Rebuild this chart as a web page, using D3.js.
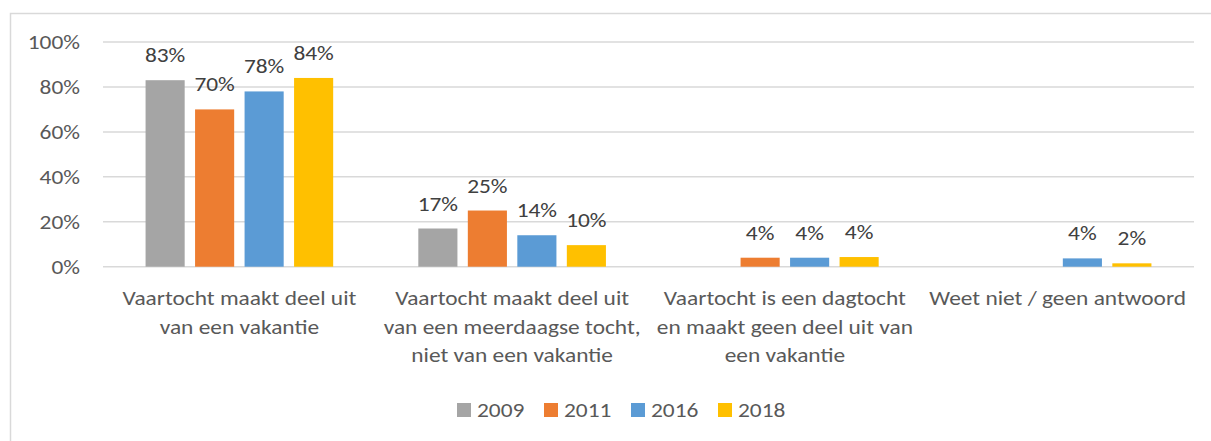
<!DOCTYPE html>
<html>
<head>
<meta charset="utf-8">
<script src="https://cdn.jsdelivr.net/npm/d3@7"></script>
<style>
  body { margin: 0; background: #fff; }
  svg { display: block; font-family: Carlito, Calibri, Lato, sans-serif; }
</style>
</head>
<body>
<div id="chart"></div>
<script>
// categories (pre-wrapped the way the original wraps them)
var categories = ["vakantie", "meerdaags", "dagtocht", "weetniet"];
var categoryLines = [
  ["Vaartocht maakt deel uit", "van een vakantie"],
  ["Vaartocht maakt deel uit", "van een meerdaagse tocht,", "niet van een vakantie"],
  ["Vaartocht is een dagtocht", "en maakt geen deel uit van", "een vakantie"],
  ["Weet niet / geen antwoord"]
];
var years = ["2009", "2011", "2016", "2018"];
var colors = ["#a5a5a5", "#ed7d31", "#5b9bd5", "#ffc000"];

// percentages per year, in category order (null = no bar)
var v2009 = [83, 17, null, null];
var v2011 = [70, 25, 4, null];
var v2016 = [78, 14, 4, 3.7];
var v2018 = [84, 9.6, 4.3, 1.5];
// labels as shown in the chart
var l2009 = ["83%", "17%", "", ""];
var l2011 = ["70%", "25%", "4%", ""];
var l2016 = ["78%", "14%", "4%", "4%"];
var l2018 = ["84%", "10%", "4%", "2%"];

var yTicks = [0, 20, 40, 60, 80, 100];

var series = [v2009, v2011, v2016, v2018];
var labels = [l2009, l2011, l2016, l2018];

var width = 1211, height = 441;
var margin = { left: 103, right: 17, top: 42, bottom: 174 };
var fs = 20, sx = 1.17;   // text is a bit wider than the fallback font

var svg = d3.select("#chart").append("svg")
  .attr("width", width)
  .attr("height", height);

// place a text at (x,y) with the horizontal stretch
function put(sel, fx, fy) {
  return sel.attr("transform", (d, i) => "translate(" + fx(d, i) + "," + fy(d, i) + ") scale(" + sx + ",1)");
}

// chart frame
svg.append("rect")
  .attr("x", 10.5).attr("y", 13.5)
  .attr("width", width).attr("height", height)
  .attr("fill", "none")
  .attr("stroke", "#d9d9d9")
  .attr("stroke-width", 1.5);

var x = d3.scaleBand()
  .domain(categories)
  .range([margin.left, width - margin.right]);

var inner = d3.scaleBand()
  .domain(years)
  .range([0, x.bandwidth()])
  .paddingInner(0.21)
  .paddingOuter(0.86);

var y = d3.scaleLinear()
  .domain([0, 100])
  .range([height - margin.bottom - 0.3, margin.top]);

// gridlines
svg.append("g").selectAll("line")
  .data(yTicks)
  .enter()
  .append("line")
  .attr("x1", margin.left)
  .attr("x2", width - margin.right)
  .attr("y1", d => y(d))
  .attr("y2", d => y(d))
  .attr("stroke", "#d9d9d9")
  .attr("stroke-width", 1.5);

// y tick labels
put(svg.append("g").selectAll("text")
  .data(yTicks)
  .enter()
  .append("text")
  .text(d => d + "%")
  .attr("text-anchor", "end")
  .attr("font-size", fs)
  .attr("fill", "#595959"), d => 80, d => y(d) + 7);

// bars and labels
series.forEach(function (vals, s) {
  var g = svg.append("g");
  var rows = categories.map((c, i) => ({ c: c, v: vals[i], l: labels[s][i] }))
    .filter(d => d.v != null);

  g.selectAll("rect")
    .data(rows)
    .enter()
    .append("rect")
    .attr("x", d => x(d.c) + inner(years[s]))
    .attr("y", d => y(d.v))
    .attr("width", inner.bandwidth())
    .attr("height", d => y(0) - y(d.v))
    .attr("fill", colors[s]);

  put(g.selectAll("text")
    .data(rows)
    .enter()
    .append("text")
    .text(d => d.l)
    .attr("text-anchor", "middle")
    .attr("font-size", fs)
    .attr("fill", "#404040"),
    d => x(d.c) + inner(years[s]) + inner.bandwidth() / 2,
    d => y(d.v) - 18);
});

// category labels
categories.forEach(function (c, i) {
  put(svg.append("g").selectAll("text")
    .data(categoryLines[i])
    .enter()
    .append("text")
    .text(d => d)
    .attr("text-anchor", "middle")
    .attr("font-size", fs)
    .attr("fill", "#595959"),
    d => x(c) + x.bandwidth() / 2,
    (d, j) => 305 + j * 28.5);
});

// legend
var legendX = [457, 544, 631, 718];
var legend = svg.append("g").selectAll("g")
  .data(years)
  .enter()
  .append("g")
  .attr("transform", (d, i) => "translate(" + legendX[i] + ",403)");

legend.append("rect")
  .attr("width", 14)
  .attr("height", 14)
  .attr("fill", (d, i) => colors[i]);

legend.append("text")
  .text(d => d)
  .attr("transform", "translate(20,14) scale(" + sx + ",1)")
  .attr("font-size", fs)
  .attr("fill", "#595959");
</script>
</body>
</html>
